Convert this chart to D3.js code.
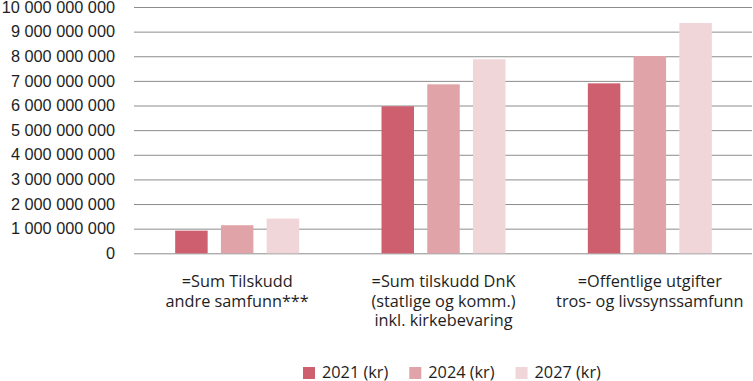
<!DOCTYPE html>
<html>
<head>
<meta charset="utf-8">
<script src="https://cdn.jsdelivr.net/npm/d3@7"></script>
<style>
  body { margin: 0; background: #fff; }
  svg { display: block; font-family: "Open Sans", sans-serif; }
</style>
</head>
<body>
<div id="chart"></div>
<script>
/**
 * DATA
 * */
const categories = [
  ["=Sum Tilskudd", "andre samfunn***"],
  ["=Sum tilskudd DnK", "(statlige og komm.)", "inkl. kirkebevaring"],
  ["=Offentlige utgifter", "tros- og livssynssamfunn"]
];
const seriesNames = ["2021 (kr)", "2024 (kr)", "2027 (kr)"];
const values2021 = [920000000, 5970000000, 6900000000];
const values2024 = [1140000000, 6860000000, 8010000000];
const values2027 = [1410000000, 7880000000, 9350000000];
const yTicks = [0, 1e9, 2e9, 3e9, 4e9, 5e9, 6e9, 7e9, 8e9, 9e9, 1e10];

const colors = ["#cd5f6e", "#e0a4a8", "#f0d6d8"];

/**
 * CONSTANTS
 * */
const width = 753,
  height = 381,
  margin = { top: 7, bottom: 128, left: 134, right: 0 };
const fontSize = "16.3px";

const seriesValues = [values2021, values2024, values2027];
const rows = categories.map((c, i) => ({
  key: i,
  lines: c,
  vals: seriesNames.map((s, j) => ({ series: s, idx: j, value: seriesValues[j][i] }))
}));

const svg = d3.select("#chart")
  .append("svg")
  .attr("width", width)
  .attr("height", height);

const locale = d3.formatLocale({ decimal: ",", thousands: " ", grouping: [3], currency: ["", ""] });
const fmt = locale.format(",d");

const y = d3.scaleLinear()
  .domain([0, 1e10])
  .range([253.3, margin.top]);

const x0 = d3.scaleBand()
  .domain(rows.map(d => d.key))
  .range([margin.left, width]);

const x1 = d3.scaleBand()
  .domain(seriesNames)
  .range([0, x0.bandwidth()])
  .paddingInner(0.29)
  .paddingOuter(0.9);

// gridlines + tick labels
const yAxis = svg.append("g")
  .attr("transform", `translate(${margin.left},0)`)
  .call(d3.axisLeft(y)
    .tickValues(yTicks)
    .tickFormat(fmt)
    .tickSize(-(width - margin.left - 1))
    .tickPadding(19));

yAxis.select(".domain").remove();
yAxis.selectAll(".tick line").attr("stroke", "#8c8c8c").attr("stroke-width", 1);
yAxis.selectAll(".tick text")
  .attr("fill", "#1e1e1e")
  .style("font-size", fontSize);

// bars
const group = svg.append("g")
  .selectAll("g")
  .data(rows)
  .join("g")
  .attr("transform", d => `translate(${x0(d.key)},0)`);

group.selectAll("rect")
  .data(d => d.vals)
  .join("rect")
  .attr("x", d => x1(d.series))
  .attr("width", x1.bandwidth())
  .attr("y", d => y(d.value))
  .attr("height", d => y(0) - y(d.value))
  .attr("fill", d => colors[d.idx]);

// category labels
group.append("text")
  .attr("text-anchor", "middle")
  .attr("fill", "#1e1e1e")
  .style("font-size", fontSize)
  .selectAll("tspan")
  .data(d => d.lines)
  .join("tspan")
  .attr("x", x0.bandwidth() / 2)
  .attr("y", (d, i) => 287 + i * 19.5)
  .text(d => d);

// legend
const legend = svg.append("g");
let lx = 303;
seriesNames.forEach((s, i) => {
  const item = legend.append("g").attr("transform", `translate(${lx},0)`);
  item.append("rect")
    .attr("x", 0)
    .attr("y", 367)
    .attr("width", 12)
    .attr("height", 12)
    .attr("fill", colors[i]);
  const t = item.append("text")
    .attr("x", 19)
    .attr("y", 378)
    .attr("fill", "#1e1e1e")
    .style("font-size", fontSize)
    .text(s);
  lx += 19 + t.node().getComputedTextLength() + 21;
});
</script>
</body>
</html>
